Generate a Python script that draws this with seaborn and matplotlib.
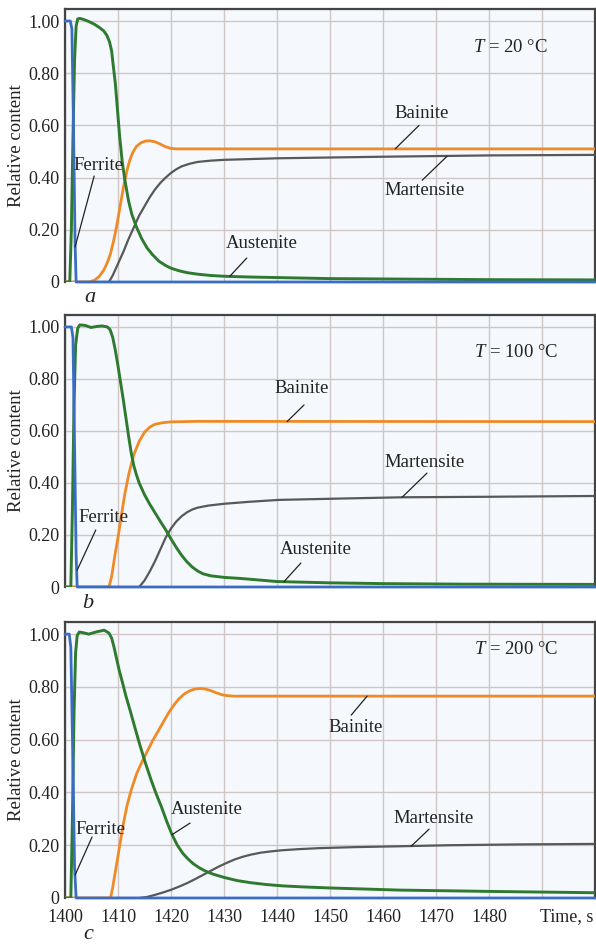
import matplotlib
matplotlib.use("Agg")
import matplotlib.pyplot as plt
import pandas as pd
import seaborn as sns

# ---------------------------------------------------------------- data
PHASES = ["Ferrite", "Austenite", "Bainite", "Martensite"]
TEMPERATURES = [20, 100, 200]
PANEL_LETTERS = ["a", "b", "c"]

X_TICKS = [1400, 1410, 1420, 1430, 1440, 1450, 1460, 1470, 1480, 1490]
X_TICK_LABELS = ["1400", "1410", "1420", "1430", "1440", "1450", "1460", "1470", "1480", ""]
X_AXIS_LABEL = "Time, s"
Y_TICKS = [0.0, 0.2, 0.4, 0.6, 0.8, 1.0]
Y_TICK_LABELS = ["0", "0.20", "0.40", "0.60", "0.80", "1.00"]
Y_AXIS_LABEL = "Relative content"

# T = 20 °C
ferrite_t_20 = [1400, 1401.0, 1401.3, 1401.6, 1401.9, 1402.1, 1500]
ferrite_20 = [1.0, 1.0, 0.97, 0.6, 0.15, 0.0, 0.0]
austenite_t_20 = [1400, 1400.9, 1401.2, 1401.5, 1401.8, 1402.1, 1402.4, 1402.8, 1403.5,
                  1404.5, 1405.5, 1406.5, 1407.3, 1407.9, 1408.4, 1408.8, 1409.1, 1409.5,
                  1409.9, 1410.3, 1410.8, 1411.3, 1412.0, 1412.6, 1413.5, 1414.5, 1415.5,
                  1416.5, 1417.7, 1419.0, 1420.0, 1421.5, 1423.0, 1425.0, 1427.5, 1430.0,
                  1435.0, 1440.0, 1450.0, 1465.0, 1480.0, 1500.0]
austenite_20 = [0.0, 0.0, 0.2, 0.55, 0.85, 0.98, 1.008, 1.01, 1.006,
                0.998, 0.988, 0.975, 0.962, 0.945, 0.92, 0.885, 0.83, 0.76,
                0.66, 0.56, 0.46, 0.39, 0.31, 0.26, 0.21, 0.165, 0.13,
                0.105, 0.08, 0.063, 0.053, 0.043, 0.036, 0.03, 0.025, 0.022,
                0.019, 0.017, 0.013, 0.011, 0.009, 0.008]
bainite_t_20 = [1400, 1404.5, 1405.5, 1406.4, 1407.3, 1408.0, 1408.6, 1409.2, 1409.8,
                1410.4, 1411.0, 1411.6, 1412.2, 1412.8, 1413.5, 1414.3, 1415.2, 1416.0,
                1417.0, 1418.0, 1419.0, 1420.0, 1421.0, 1500]
bainite_20 = [0.0, 0.0, 0.006, 0.02, 0.045, 0.075, 0.11, 0.16, 0.22,
              0.29, 0.36, 0.42, 0.465, 0.497, 0.52, 0.533, 0.54, 0.541,
              0.537, 0.528, 0.518, 0.512, 0.51, 0.51]
martensite_t_20 = [1400, 1408.3, 1409.0, 1410.0, 1411.0, 1412.0, 1413.0, 1414.0, 1415.0,
                   1416.0, 1417.0, 1418.0, 1419.0, 1420.0, 1421.0, 1422.0, 1423.5, 1425.0,
                   1427.5, 1430.0, 1440.0, 1460.0, 1480.0, 1500.0]
martensite_20 = [0.0, 0.0, 0.025, 0.07, 0.115, 0.165, 0.21, 0.255, 0.29,
                 0.325, 0.355, 0.38, 0.4, 0.418, 0.432, 0.443, 0.453, 0.46,
                 0.465, 0.468, 0.474, 0.48, 0.485, 0.487]

# T = 100 °C
ferrite_t_100 = [1400, 1401.2, 1401.5, 1401.8, 1402.1, 1402.3, 1500]
ferrite_100 = [1.0, 1.0, 0.96, 0.55, 0.12, 0.0, 0.0]
austenite_t_100 = [1400, 1401.1, 1401.4, 1401.7, 1402.0, 1402.4, 1402.8, 1403.8, 1404.9,
                   1406.0, 1407.0, 1408.0, 1408.5, 1409.0, 1409.5, 1410.0, 1410.5, 1411.0,
                   1411.5, 1412.0, 1412.5, 1413.0, 1413.5, 1414.0, 1415.0, 1416.0, 1417.0,
                   1418.0, 1419.0, 1420.0, 1421.0, 1422.0, 1423.0, 1424.0, 1425.0, 1426.0,
                   1427.5, 1430.0, 1433.0, 1436.0, 1440.0, 1450.0, 1460.0, 1475.0, 1500.0]
austenite_100 = [0.0, 0.0, 0.3, 0.7, 0.93, 0.995, 1.008, 1.006, 0.998,
                 1.002, 1.004, 1.0, 0.99, 0.96, 0.91, 0.85, 0.785, 0.72,
                 0.65, 0.58, 0.515, 0.465, 0.43, 0.4, 0.355, 0.318, 0.285,
                 0.252, 0.22, 0.185, 0.152, 0.122, 0.097, 0.077, 0.062, 0.051,
                 0.043, 0.037, 0.033, 0.028, 0.021, 0.016, 0.013, 0.011, 0.01]
bainite_t_100 = [1400, 1408.3, 1408.8, 1409.4, 1410.0, 1410.6, 1411.3, 1412.1, 1413.0,
                 1414.0, 1415.0, 1416.0, 1417.0, 1418.5, 1420.0, 1425.0, 1500]
bainite_100 = [0.0, 0.0, 0.04, 0.12, 0.19, 0.27, 0.36, 0.44, 0.51,
               0.56, 0.595, 0.615, 0.626, 0.632, 0.635, 0.637, 0.636]
martensite_t_100 = [1400, 1414.0, 1415.0, 1416.0, 1417.0, 1418.0, 1419.0, 1420.0, 1421.0,
                    1422.0, 1423.0, 1424.0, 1425.0, 1427.0, 1430.0, 1435.0, 1440.4, 1451.7,
                    1463.6, 1480.0, 1500.0]
martensite_100 = [0.0, 0.0, 0.025, 0.06, 0.1, 0.145, 0.19, 0.225, 0.252,
                  0.272, 0.287, 0.298, 0.305, 0.313, 0.32, 0.328, 0.335, 0.34,
                  0.345, 0.347, 0.35]

# T = 200 °C
ferrite_t_200 = [1400, 1400.8, 1401.1, 1401.5, 1401.8, 1402.1, 1500]
ferrite_200 = [1.0, 1.0, 0.95, 0.5, 0.12, 0.0, 0.0]
austenite_t_200 = [1400, 1401.1, 1401.4, 1401.7, 1402.0, 1402.3, 1402.7, 1403.5, 1404.5,
                   1405.8, 1407.4, 1408.3, 1408.8, 1409.2, 1409.7, 1410.2, 1410.8, 1411.5,
                   1412.3, 1413.2, 1414.2, 1415.2, 1416.2, 1417.2, 1418.2, 1419.2, 1420.2,
                   1421.2, 1422.2, 1423.2, 1424.2, 1425.3, 1426.5, 1428.0, 1430.0, 1432.5,
                   1435.0, 1438.0, 1441.0, 1445.0, 1450.0, 1463.0, 1480.0, 1500.0]
austenite_200 = [0.0, 0.0, 0.3, 0.7, 0.93, 0.995, 1.008, 1.005, 1.0,
                 1.008, 1.015, 1.004, 0.985, 0.955, 0.91, 0.865, 0.82, 0.765,
                 0.71, 0.645, 0.575, 0.51, 0.45, 0.395, 0.345, 0.29, 0.24,
                 0.2, 0.17, 0.148, 0.13, 0.115, 0.102, 0.09, 0.078, 0.066,
                 0.058, 0.051, 0.046, 0.042, 0.038, 0.03, 0.025, 0.02]
bainite_t_200 = [1400, 1408.6, 1409.0, 1409.5, 1410.0, 1410.5, 1411.0, 1411.7, 1412.5,
                 1413.5, 1414.5, 1415.5, 1416.5, 1417.5, 1418.5, 1419.5, 1420.5, 1421.5,
                 1422.5, 1423.5, 1424.5, 1425.5, 1426.5, 1427.5, 1428.5, 1429.5, 1430.5,
                 1432.0, 1500]
bainite_200 = [0.0, 0.0, 0.04, 0.1, 0.16, 0.22, 0.28, 0.35, 0.41,
               0.47, 0.515, 0.555, 0.595, 0.63, 0.665, 0.7, 0.73, 0.755,
               0.773, 0.785, 0.792, 0.794, 0.792, 0.786, 0.778, 0.771, 0.767,
               0.765, 0.765]
martensite_t_200 = [1400, 1414.0, 1415.5, 1417.0, 1418.5, 1420.0, 1421.5, 1423.0, 1424.5,
                    1426.0, 1427.5, 1429.0, 1430.5, 1432.0, 1433.5, 1435.0, 1437.0, 1439.0,
                    1441.0, 1444.0, 1448.0, 1455.0, 1463.0, 1472.5, 1485.0, 1500.0]
martensite_200 = [0.0, 0.0, 0.004, 0.012, 0.021, 0.031, 0.043, 0.056, 0.071,
                  0.087, 0.103, 0.119, 0.133, 0.146, 0.156, 0.164, 0.172, 0.177,
                  0.181, 0.185, 0.189, 0.193, 0.196, 0.2, 0.203, 0.205]

SERIES = {
    20: {"Ferrite": (ferrite_t_20, ferrite_20), "Austenite": (austenite_t_20, austenite_20),
         "Bainite": (bainite_t_20, bainite_20), "Martensite": (martensite_t_20, martensite_20)},
    100: {"Ferrite": (ferrite_t_100, ferrite_100), "Austenite": (austenite_t_100, austenite_100),
          "Bainite": (bainite_t_100, bainite_100), "Martensite": (martensite_t_100, martensite_100)},
    200: {"Ferrite": (ferrite_t_200, ferrite_200), "Austenite": (austenite_t_200, austenite_200),
          "Bainite": (bainite_t_200, bainite_200), "Martensite": (martensite_t_200, martensite_200)},
}

rows = []
for temp, phases in SERIES.items():
    for phase, (ts, vs) in phases.items():
        for t, v in zip(ts, vs):
            rows.append({"temperature": temp, "phase": phase, "time": t, "content": v})
df = pd.DataFrame(rows)

# ---------------------------------------------------------------- style
sns.set_theme(style="whitegrid")
plt.rcParams["font.family"] = ["Liberation Serif", "DejaVu Serif"]
plt.rcParams["mathtext.fontset"] = "custom"
plt.rcParams["mathtext.it"] = "Liberation Serif:italic"
plt.rcParams["mathtext.rm"] = "Liberation Serif"

COLORS = {"Ferrite": "#3b6cc4", "Austenite": "#2e7a2e", "Bainite": "#f08a24", "Martensite": "#585858"}
WIDTHS = {"Ferrite": 2.0, "Austenite": 2.1, "Bainite": 2.0, "Martensite": 1.6}
DRAW_ORDER = ["Martensite", "Bainite", "Austenite", "Ferrite"]
FS = 13.5
TICK_FS = 13
TXT = "#222222"

# label placement per panel: (text centre, leader start, leader end on the curve)
LABELS = {
    20: [("Ferrite", (1406.4, 0.448), (1405.5, 0.406), (1401.9, 0.134)),
         ("Austenite", (1437.2, 0.149), (1434.3, 0.092), (1431.1, 0.022)),
         ("Bainite", (1467.2, 0.647), (1466.8, 0.600), (1462.3, 0.510)),
         ("Martensite", (1467.9, 0.352), (1467.4, 0.390), (1472.1, 0.482))],
    100: [("Ferrite", (1407.2, 0.269), (1405.8, 0.219), (1402.3, 0.065)),
          ("Austenite", (1447.4, 0.146), (1444.5, 0.092), (1441.3, 0.020)),
          ("Bainite", (1444.7, 0.765), (1445.1, 0.700), (1441.9, 0.636)),
          ("Martensite", (1467.9, 0.480), (1468.3, 0.438), (1463.6, 0.345))],
    200: [("Ferrite", (1406.6, 0.258), (1405.1, 0.231), (1401.9, 0.087)),
          ("Austenite", (1426.8, 0.337), (1423.6, 0.284), (1420.2, 0.240)),
          ("Bainite", (1454.9, 0.648), (1454.0, 0.693), (1457.0, 0.765)),
          ("Martensite", (1469.6, 0.303), (1468.7, 0.261), (1465.3, 0.196))],
}
TEMP_LABEL_POS = {20: (1484.0, 0.897), 100: (1485.1, 0.900), 200: (1485.1, 0.943)}
LETTER_POS = {20: (0.047, -0.055), 100: (0.043, -0.059), 200: (0.043, -0.134)}

W, H = 596, 944
fig = plt.figure(figsize=(W / 100, H / 100), dpi=100)
fig.patch.set_facecolor("white")
AX_BOXES = [(65, 9, 595, 282), (65, 315, 595, 587), (65, 622, 595, 898)]

for i, temp in enumerate(TEMPERATURES):
    x0, y0, x1, y1 = AX_BOXES[i]
    ax = fig.add_axes([x0 / W, 1 - y1 / H, (x1 - x0) / W, (y1 - y0) / H])
    ax.set_facecolor("#f5f8fc")
    sub = df[df["temperature"] == temp]
    for phase in DRAW_ORDER:
        d = sub[sub["phase"] == phase]
        sns.lineplot(data=d, x="time", y="content", ax=ax, color=COLORS[phase],
                     linewidth=WIDTHS[phase], estimator=None, sort=False,
                     clip_on=(phase != "Ferrite"), zorder=3)

    ax.set_xlim(1400, 1500)
    ax.set_ylim(0, 1.046)
    ax.set_xticks(X_TICKS)
    ax.set_yticks(Y_TICKS)
    ax.set_yticklabels(Y_TICK_LABELS, fontsize=TICK_FS)
    ax.tick_params(axis="y", length=0, pad=4, colors=TXT)
    if i == 2:
        ax.set_xticklabels(X_TICK_LABELS, fontsize=TICK_FS)
        ax.tick_params(axis="x", length=0, pad=8, colors=TXT)
        ax.text(0.997, -0.037, X_AXIS_LABEL, transform=ax.transAxes, ha="right",
                va="top", fontsize=TICK_FS, color=TXT)
    else:
        ax.set_xticklabels([])
        ax.tick_params(axis="x", length=0)
    ax.set_xlabel("")
    ax.set_ylabel(Y_AXIS_LABEL, fontsize=FS, color=TXT, va="center")
    ax.yaxis.set_label_coords(-0.092, 0.5)

    ax.grid(True, color="#d0c6c5", linewidth=1.0)
    ax.set_axisbelow(True)
    for side in ("left", "top", "right"):
        ax.spines[side].set_color("#444444")
        ax.spines[side].set_linewidth(1.6)
    ax.spines["bottom"].set_visible(False)

    for name, txt_xy, start, end in LABELS[temp]:
        ax.annotate("", xy=end, xytext=start,
                    arrowprops=dict(arrowstyle="-", color=TXT, lw=0.9,
                                    shrinkA=0, shrinkB=0), zorder=4)
        ax.text(*txt_xy, name, ha="center", va="center", fontsize=FS,
                color=TXT, zorder=5)

    tx, ty = TEMP_LABEL_POS[temp]
    ax.text(tx, ty, f"$T$ = {temp} °C", ha="center", va="center", fontsize=FS,
            color=TXT)
    lx, ly = LETTER_POS[temp]
    ax.text(lx, ly, PANEL_LETTERS[i], transform=ax.transAxes, ha="center",
            va="center", fontsize=16, fontstyle="italic", color=TXT)

fig.savefig("out.png", dpi=100)
